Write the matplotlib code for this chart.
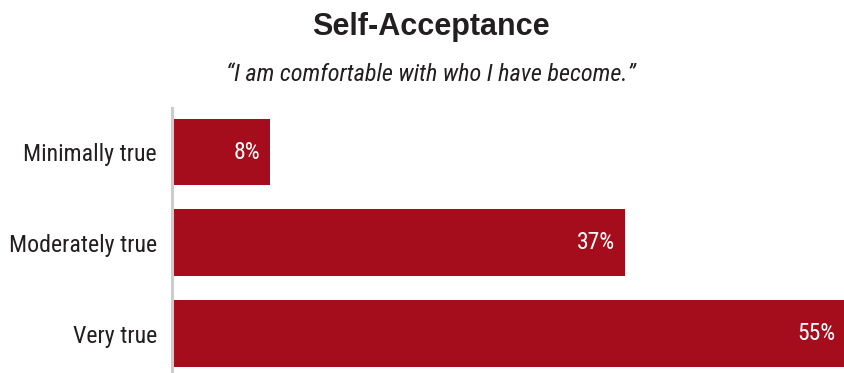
import matplotlib
matplotlib.use("Agg")
import matplotlib.pyplot as plt

categories = ["Minimally true", "Moderately true", "Very true"]
values = [8, 37, 55]
value_labels = ["8%", "37%", "55%"]
title = "Self-Acceptance"
subtitle = "\u201cI am comfortable with who I have become.\u201d"

BAR = "#a50d1d"
TEXT = "#231f20"
NARROW = ["Roboto Condensed", "Archivo Narrow", "Roboto"]

fig = plt.figure(figsize=(8.45, 3.73), dpi=100)
ax = fig.add_axes([0.2036, 0.0, 0.7964, 0.7105])

ypos = list(range(len(categories)))
ax.barh(ypos, values, height=0.736, color=BAR, left=0)
ax.set_xlim(0, 55)
ax.set_ylim(2.43, -0.484)

# percentage labels inside the bar ends
for y, v, lab in zip(ypos, values, value_labels):
    ax.text(v - 0.8, y, lab, ha="right", va="center", color="white",
            fontsize=17, family=NARROW)

ax.set_yticks(ypos)
ax.set_yticklabels(categories, fontsize=17.2, family=NARROW, color=TEXT)
ax.tick_params(axis="y", length=0, pad=11)
ax.set_xticks([])
for s in ("top", "right", "bottom"):
    ax.spines[s].set_visible(False)
ax.spines["left"].set_color("#cccccc")
ax.spines["left"].set_linewidth(2.2)

fig.text(0.51, 0.928, title, ha="center", va="center", fontsize=22,
         fontweight="bold", family="Liberation Sans", color=TEXT)
fig.text(0.51, 0.80, subtitle, ha="center", va="center", fontsize=17.5,
         style="italic", family=NARROW, color=TEXT)

fig.savefig("out.png", dpi=100, facecolor="white")
